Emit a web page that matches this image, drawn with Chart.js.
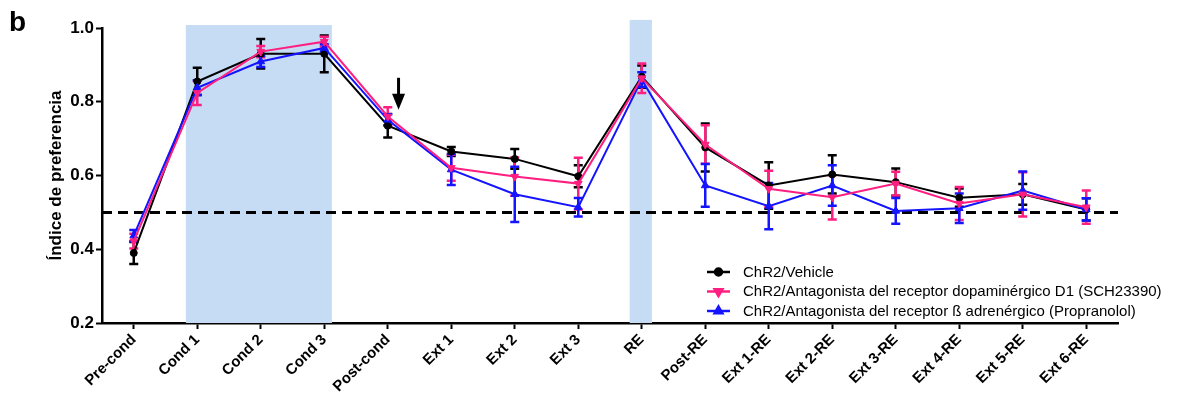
<!DOCTYPE html>
<html>
<head>
<meta charset="utf-8">
<script src="https://cdn.jsdelivr.net/npm/chart.js@4/dist/chart.umd.min.js"></script>
<style>
    html, body { margin: 0; padding: 0; background: #fff; }
    #wrap { width: 1177px; height: 398px; position: relative; }
</style>
</head>
<body>
<div id="wrap"><canvas id="myChart"></canvas></div>
<script>
/** 横坐标 */
var labels = ['Pre-cond', 'Cond 1', 'Cond 2', 'Cond 3', 'Post-cond', 'Ext 1', 'Ext 2', 'Ext 3', 'RE',
    'Post-RE', 'Ext 1-RE', 'Ext 2-RE', 'Ext 3-RE', 'Ext 4-RE', 'Ext 5-RE', 'Ext 6-RE']
var yTicks = [0.2, 0.4, 0.6, 0.8, 1.0]

/** 三组数据 + SEM */
var vehicle = [0.39, 0.855, 0.93, 0.93, 0.735, 0.665, 0.645, 0.598, 0.868, 0.676, 0.573, 0.603, 0.582, 0.54, 0.549, 0.508]
var vehicleErr = [0.03, 0.037, 0.04, 0.05, 0.032, 0.012, 0.027, 0.03, 0.03, 0.065, 0.063, 0.052, 0.037, 0.025, 0.028, 0.03]
var d1 = [0.422, 0.824, 0.936, 0.963, 0.76, 0.621, 0.597, 0.578, 0.864, 0.684, 0.564, 0.541, 0.578, 0.524, 0.549, 0.514]
var d1Err = [0.02, 0.033, 0.015, 0.013, 0.025, 0.035, 0.052, 0.07, 0.04, 0.052, 0.049, 0.06, 0.032, 0.045, 0.06, 0.045]
var beta = [0.437, 0.838, 0.909, 0.946, 0.751, 0.616, 0.549, 0.514, 0.86, 0.573, 0.517, 0.573, 0.504, 0.511, 0.559, 0.508]
var betaErr = [0.015, 0.02, 0.015, 0.01, 0.015, 0.042, 0.075, 0.025, 0.02, 0.058, 0.063, 0.055, 0.035, 0.04, 0.052, 0.03]

var seriesNames = ['ChR2/Vehicle',
    'ChR2/Antagonista del receptor dopaminérgico D1 (SCH23390)',
    'ChR2/Antagonista del receptor ß adrenérgico (Propranolol)']

/** 背景阴影区 (category 单位) 和 参考线 */
var condBand = [0.82, 3.12, 1.008]
var reBand = [7.81, 8.16, 1.022]
var chanceLevel = 0.5

var grafica = {
    init: function () {
        var ctx = document.getElementById('myChart').getContext('2d')
        new Chart(ctx, {
            type: 'line',
            data: {
                labels: labels,
                datasets: [
                    grafica.funcs.makeSet(seriesNames[0], vehicle, vehicleErr, '#000000', 'circle', 0, 2),
                    grafica.funcs.makeSet(seriesNames[1], d1, d1Err, '#ff1f80', 'triangle', 180, 0),
                    grafica.funcs.makeSet(seriesNames[2], beta, betaErr, '#1414ff', 'triangle', 0, 1)
                ]
            },
            options: {
                responsive: false,
                animation: false,
                layout: { padding: { top: 28, right: 59, left: 0, bottom: 0 } },
                plugins: { legend: { display: false }, tooltip: { enabled: false } },
                scales: {
                    x: {
                        offset: true,
                        grid: { display: true, drawOnChartArea: false, tickLength: 6, tickColor: '#000', tickWidth: 2 },
                        border: { color: '#000', width: 2.5 },
                        ticks: {
                            color: '#000', minRotation: 45, maxRotation: 45, padding: 2,
                            font: { family: 'Liberation Sans, Arial', size: 15, weight: 'bold' }
                        },
                        afterFit: function (scale) { scale.height = 75 }
                    },
                    y: {
                        min: 0.2, max: 1.0,
                        grid: { display: true, drawOnChartArea: false, tickLength: 6, tickColor: '#000', tickWidth: 2 },
                        border: { color: '#000', width: 2.5 },
                        afterBuildTicks: function (scale) {
                            scale.ticks = yTicks.map(function (v) { return { value: v } })
                        },
                        ticks: {
                            color: '#000', padding: 2,
                            font: { family: 'Liberation Sans, Arial', size: 17, weight: 'bold' },
                            callback: function (v) { return Number(v).toFixed(1) }
                        },
                        title: {
                            display: true, text: 'Índice de preferencia', color: '#000',
                            font: { family: 'Liberation Sans, Arial', size: 17, weight: 'bold' },
                            padding: { top: 46, bottom: 0 }
                        },
                        afterFit: function (scale) { scale.width = 102 }
                    }
                }
            },
            plugins: [grafica.funcs.extrasPlugin()]
        })
    },
    funcs: {
        makeSet: function (name, data, err, color, style, rot, order) {
            return {
                label: name,
                data: data,
                err: err,
                borderColor: color,
                backgroundColor: color,
                borderWidth: 2,
                pointStyle: style,
                pointRotation: rot,
                pointRadius: style === 'circle' ? 3.5 : 4.5,
                pointBorderWidth: 1,
                tension: 0,
                fill: false,
                order: order
            }
        },
        extrasPlugin: function () {
            return {
                id: 'extras',
                beforeDatasetsDraw: function (chart) {
                    var c = chart.ctx, x = chart.scales.x, y = chart.scales.y, area = chart.chartArea
                    c.save()
                    /** 阴影区 */
                    c.fillStyle = '#c6dcf5';
                    [condBand, reBand].forEach(function (b) {
                        var x0 = x.getPixelForValue(b[0]), x1 = x.getPixelForValue(b[1])
                        var top = y.getPixelForValue(b[2])
                        c.fillRect(x0, top, x1 - x0, area.bottom - top)
                    })
                    /** 0.5 虚线 */
                    c.strokeStyle = '#000'
                    c.lineWidth = 3
                    c.setLineDash([10, 6])
                    var yy = y.getPixelForValue(chanceLevel)
                    c.beginPath()
                    c.moveTo(area.left, yy)
                    c.lineTo(area.right, yy)
                    c.stroke()
                    c.setLineDash([])
                    /** 误差线 */
                    chart.data.datasets.forEach(function (ds, i) {
                        var meta = chart.getDatasetMeta(i)
                        c.strokeStyle = ds.borderColor
                        c.lineWidth = 2.5
                        meta.data.forEach(function (pt, j) {
                            var hi = y.getPixelForValue(ds.data[j] + ds.err[j])
                            var lo = y.getPixelForValue(ds.data[j] - ds.err[j])
                            c.beginPath()
                            c.moveTo(pt.x, hi); c.lineTo(pt.x, lo)
                            c.moveTo(pt.x - 4.5, hi); c.lineTo(pt.x + 4.5, hi)
                            c.moveTo(pt.x - 4.5, lo); c.lineTo(pt.x + 4.5, lo)
                            c.stroke()
                        })
                    })
                    c.restore()
                },
                afterDatasetsDraw: function (chart) {
                    var c = chart.ctx, x = chart.scales.x, y = chart.scales.y
                    c.save()
                    /** Post-cond 箭头 */
                    var ax = x.getPixelForValue(4.17)
                    var a0 = y.getPixelForValue(0.865), a1 = y.getPixelForValue(0.778)
                    c.strokeStyle = '#000'; c.fillStyle = '#000'
                    c.lineWidth = 3
                    c.beginPath(); c.moveTo(ax, a0); c.lineTo(ax, a1 - 12); c.stroke()
                    c.beginPath()
                    c.moveTo(ax - 6.5, a1 - 16); c.lineTo(ax + 6.5, a1 - 16); c.lineTo(ax, a1)
                    c.closePath(); c.fill()

                    /** 图例 */
                    var lx = 707, ly = [272, 291.5, 311]
                    chart.data.datasets.forEach(function (ds, i) {
                        c.strokeStyle = ds.borderColor
                        c.lineWidth = 2.5
                        c.beginPath(); c.moveTo(lx, ly[i]); c.lineTo(lx + 23, ly[i]); c.stroke()
                        Chart.helpers.drawPoint(c, {
                            pointStyle: ds.pointStyle, rotation: ds.pointRotation,
                            radius: ds.pointRadius, borderWidth: 1
                        }, lx + 11.5, ly[i])
                        c.fillStyle = ds.borderColor
                        c.fill()
                        c.fillStyle = '#000'
                        c.font = '15px "Liberation Sans", Arial'
                        c.textBaseline = 'middle'
                        c.fillText(ds.label, 743, ly[i] + 0.5)
                    })

                    /** 面板字母 */
                    c.font = 'bold 28px "Liberation Sans", Arial'
                    c.textBaseline = 'alphabetic'
                    c.fillStyle = '#000'
                    c.fillText('b', 9, 31)
                    c.restore()
                }
            }
        }
    }
}

document.getElementById('myChart').width = 1177
document.getElementById('myChart').height = 398
grafica.init()
</script>
</body>
</html>
